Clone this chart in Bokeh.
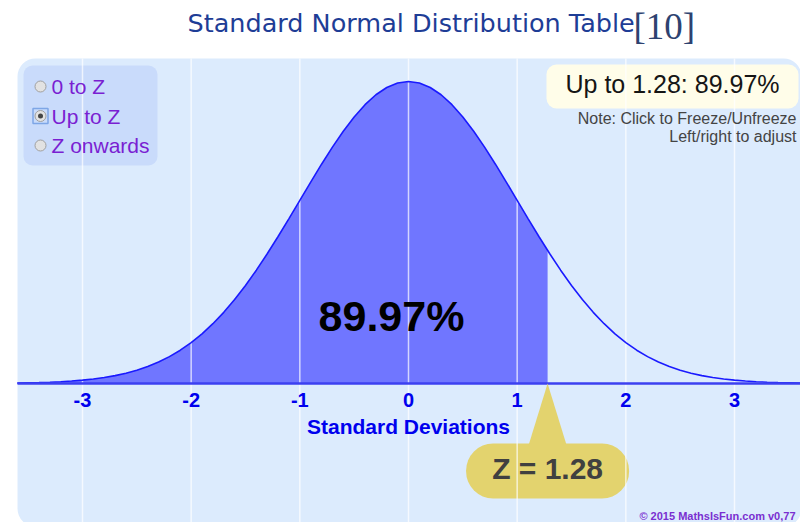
from bokeh.plotting import figure
from bokeh.models import Range1d, BoxAnnotation
from bokeh.core.properties import value
from bokeh.embed import file_html
from bokeh.resources import INLINE

# ---------------- data ----------------
z_value = 1.28
z_density = 0.1758
area_pct = "89.97%"
curve_x = [-3.6, -3.5, -3.4, -3.3, -3.2, -3.1, -3.0, -2.9, -2.8, -2.7, -2.6, -2.5,
           -2.4, -2.3, -2.2, -2.1, -2.0, -1.9, -1.8, -1.7, -1.6, -1.5, -1.4, -1.3,
           -1.2, -1.1, -1.0, -0.9, -0.8, -0.7, -0.6, -0.5, -0.4, -0.3, -0.2, -0.1,
           0.0, 0.1, 0.2, 0.3, 0.4, 0.5, 0.6, 0.7, 0.8, 0.9, 1.0, 1.1, 1.2, 1.3,
           1.4, 1.5, 1.6, 1.7, 1.8, 1.9, 2.0, 2.1, 2.2, 2.3, 2.4, 2.5, 2.6, 2.7,
           2.8, 2.9, 3.0, 3.1, 3.2, 3.3, 3.4, 3.5, 3.6, 3.7]
curve_y = [0.0006, 0.0009, 0.0012, 0.0017, 0.0024, 0.0033, 0.0044, 0.0060, 0.0079,
           0.0104, 0.0136, 0.0175, 0.0224, 0.0283, 0.0355, 0.0440, 0.0540, 0.0656,
           0.0790, 0.0940, 0.1109, 0.1295, 0.1497, 0.1714, 0.1942, 0.2179, 0.2420,
           0.2661, 0.2897, 0.3123, 0.3332, 0.3521, 0.3683, 0.3814, 0.3910, 0.3970,
           0.3989, 0.3970, 0.3910, 0.3814, 0.3683, 0.3521, 0.3332, 0.3123, 0.2897,
           0.2661, 0.2420, 0.2179, 0.1942, 0.1714, 0.1497, 0.1295, 0.1109, 0.0940,
           0.0790, 0.0656, 0.0540, 0.0440, 0.0355, 0.0283, 0.0224, 0.0175, 0.0136,
           0.0104, 0.0079, 0.0060, 0.0044, 0.0033, 0.0024, 0.0017, 0.0012, 0.0009,
           0.0006, 0.0004]
tick_values = [-3, -2, -1, 0, 1, 2, 3]
tick_labels = ["-3", "-2", "-1", "0", "1", "2", "3"]
options = ["0 to Z", "Up to Z", "Z onwards"]
selected_option = "Up to Z"
title_text = "Standard Normal Distribution Table"
ref_text = "[10]"
axis_title = "Standard Deviations"
headline = f"Up to {z_value}: {area_pct}"
notes = ["Note: Click to Freeze/Unfreeze", "Left/right to adjust"]
z_label = f"Z = {z_value}"
copyright_text = "\u00a9 2015 MathsIsFun.com v0,77"

# ---------------- layout helpers (page pixels -> data) ----------------
W, H = 800, 522
SX = 108.67          # px per standard deviation
SY = 757.0           # px per density unit
ORG_X, ORG_Y = 408, 383   # page position of (0, 0)


def dx(px):
    return (px - ORG_X) / SX


def dy(py):
    return (ORG_Y - py) / SY


p = figure(width=W, height=H, output_backend="svg", toolbar_location=None,
           x_range=Range1d(dx(0), dx(W)), y_range=Range1d(dy(H), dy(0)),
           x_axis_location=None, y_axis_location=None, min_border=0,
           background_fill_color="white", border_fill_color="white")
p.grid.visible = False
p.outline_line_color = None

SANS = value("Liberation Sans")
PANEL_LEFT = dx(17)

# panels
p.add_layout(BoxAnnotation(left=PANEL_LEFT, right=dx(801), top=dy(58), bottom=dy(526),
                           fill_color="#dcebfd", fill_alpha=1, line_color=None,
                           border_radius=18, level="underlay"))
p.add_layout(BoxAnnotation(left=dx(23), right=dx(157), top=dy(65), bottom=dy(165),
                           fill_color="#c9dbfb", fill_alpha=1, line_color=None,
                           border_radius=9, level="underlay"))
p.add_layout(BoxAnnotation(left=dx(546), right=dx(798), top=dy(64), bottom=dy(108),
                           fill_color="#fffde9", fill_alpha=1, line_color=None,
                           border_radius=10, level="underlay"))
p.add_layout(BoxAnnotation(left=z_value - 0.75, right=z_value + 0.75, top=dy(443), bottom=dy(498),
                           fill_color="#e3d36e", fill_alpha=1, line_color=None,
                           border_radius=27, level="underlay"))

# shaded area up to Z
fill_x = [x for x in curve_x if x <= z_value] + [z_value]
fill_y = [y for x, y in zip(curve_x, curve_y) if x <= z_value] + [z_density]
p.varea(x=fill_x, y1=[0] * len(fill_x), y2=fill_y, fill_color="#7076ff")

# vertical grid lines
p.segment(x0=tick_values, y0=[dy(58)] * len(tick_values), x1=tick_values,
          y1=[dy(526)] * len(tick_values), line_color="white", line_alpha=0.7, line_width=1.5)

# curve
p.line(curve_x, curve_y, line_color="#1a1aff", line_width=1.6)

# baseline (starts at the panel edge)
p.segment(x0=[PANEL_LEFT], y0=[0], x1=[dx(W)], y1=[0], line_color="#3c40f0", line_width=2.5)

# pointer triangle
p.patch(x=[z_value, z_value - 0.19, z_value + 0.19], y=[0, dy(450), dy(450)],
        fill_color="#e3d36e", line_color=None)

# tick labels & axis title
p.text(x=tick_values, y=[dy(399)] * len(tick_values), text=tick_labels,
       text_font=SANS, text_font_style="bold", text_font_size="20px",
       text_color="#0000ee", text_align="center", text_baseline="middle")
p.text(x=[0], y=[dy(425.5)], text=[axis_title], text_font=SANS, text_font_style="bold",
       text_font_size="21px", text_color="#0000ee", text_align="center", text_baseline="middle")

# big percentage
p.text(x=[dx(391)], y=[dy(315)], text=[area_pct], text_font=SANS, text_font_style="bold",
       text_font_size="43px", text_color="#000000", text_align="center", text_baseline="middle")

# Z label
p.text(x=[z_value], y=[dy(468)], text=[z_label], text_font=SANS, text_font_style="bold",
       text_font_size="30px", text_color="#404040", text_align="center", text_baseline="middle")

# headline and notes
p.text(x=[dx(672)], y=[dy(83)], text=[headline], text_font=SANS, text_font_size="25px",
       text_color="#151515", text_align="center", text_baseline="middle")
p.text(x=[dx(796)] * len(notes), y=[dy(117.5), dy(135.5)], text=notes, text_font=SANS,
       text_font_size="16px", text_color="#444444", text_align="right", text_baseline="middle")

# radio options
opt_y = [dy(86 + 29.5 * i) for i in range(len(options))]
sel = options.index(selected_option)
p.scatter(x=[dx(40)], y=[opt_y[sel]], marker="square", size=15, fill_color=None,
          line_color="#7ea6e6", line_width=1.5)
p.scatter(x=[dx(40)] * len(options), y=opt_y, marker="circle", size=11,
          fill_color="#e2e2e2", line_color="#a0a0a0", line_width=1)
p.scatter(x=[dx(40)], y=[opt_y[sel]], marker="circle", size=5, fill_color="#454545",
          line_color=None)
p.text(x=[dx(51)] * len(options), y=opt_y, text=options, text_font=SANS,
       text_font_size="21px", text_color="#7a1fd2", text_align="left", text_baseline="middle")

# title
p.text(x=[dx(187)], y=[dy(22)], text=[title_text], text_font=value("DejaVu Sans"),
       text_font_size="25.5px", text_color="#1e3d96", text_align="left", text_baseline="middle")
p.text(x=[dx(633)], y=[dy(26)], text=[ref_text], text_font=value("Liberation Serif"),
       text_font_size="37px", text_color="#2d4270", text_align="left", text_baseline="middle")

# copyright
p.text(x=[dx(795)], y=[dy(515)], text=[copyright_text], text_font=SANS, text_font_style="bold",
       text_font_size="11px", text_color="#7a2fd0", text_align="right", text_baseline="middle")

open("out.html", "w").write(file_html(p, INLINE))
